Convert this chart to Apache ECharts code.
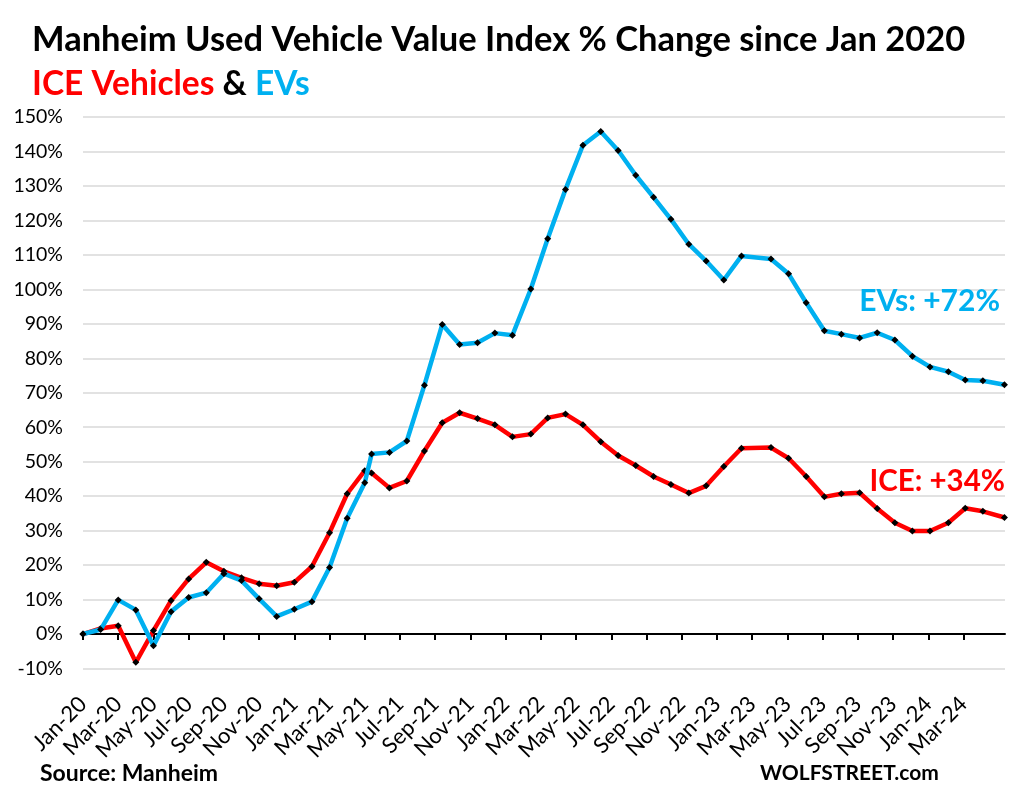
<!DOCTYPE html>
<html><head><meta charset="utf-8">
<script src="https://cdn.jsdelivr.net/npm/echarts@6/dist/echarts.min.js"></script>
<style>html,body{margin:0;padding:0;background:#fff}#c{width:1016px;height:799px}</style>
</head><body><div id="c"></div>
<script>
// ---- data ----
const dates = [
 '2020-01-01','2020-02-01','2020-03-01','2020-04-01','2020-05-01','2020-06-01','2020-07-01','2020-08-01',
 '2020-09-01','2020-10-01','2020-11-01','2020-12-01','2021-01-01','2021-02-01','2021-03-01','2021-04-01',
 '2021-05-01','2021-05-13','2021-06-13','2021-07-13','2021-08-13','2021-09-13','2021-10-13','2021-11-13',
 '2021-12-13','2022-01-13','2022-02-13','2022-03-13','2022-04-13','2022-05-13','2022-06-13','2022-07-13',
 '2022-08-13','2022-09-13','2022-10-13','2022-11-13','2022-12-13','2023-01-13','2023-02-12','2023-04-03',
 '2023-05-03','2023-06-03','2023-07-04','2023-08-03','2023-09-04','2023-10-04','2023-11-04','2023-12-04',
 '2024-01-04','2024-02-05','2024-03-04','2024-04-04','2024-05-11'
];
const iceValues = [
 0, 1.6, 2.4, -8.2, 1.0, 9.7, 16.0, 20.8, 18.2, 16.3, 14.6, 14.0, 15.0, 19.6, 29.4, 40.7,
 47.4, 46.7, 42.4, 44.4, 53.1, 61.3, 64.2, 62.5, 60.7, 57.2, 58.0, 62.7, 63.8, 60.7, 55.8, 51.8,
 48.9, 45.7, 43.4, 40.9, 43.0, 48.6, 53.9, 54.1, 51.0, 45.7, 39.8, 40.7, 41.0, 36.4, 32.3, 29.9,
 29.9, 32.3, 36.5, 35.6, 33.8
];
const evValues = [
 0, 1.3, 9.9, 7.0, -3.4, 6.5, 10.6, 12.0, 17.5, 15.5, 10.2, 5.1, 7.2, 9.4, 19.3, 33.6,
 43.9, 52.2, 52.7, 56.0, 72.2, 89.8, 84.0, 84.5, 87.3, 86.7, 100.1, 114.7, 129.0, 141.8, 145.8, 140.3,
 133.1, 126.7, 120.3, 113.1, 108.2, 102.7, 109.7, 108.8, 104.5, 96.1, 88.0, 87.0, 85.9, 87.4, 85.3, 80.6,
 77.5, 76.1, 73.7, 73.5, 72.3
];
const xTickLabels = ['Jan-20','Mar-20','May-20','Jul-20','Sep-20','Nov-20','Jan-21','Mar-21','May-21','Jul-21',
 'Sep-21','Nov-21','Jan-22','Mar-22','May-22','Jul-22','Sep-22','Nov-22','Jan-23','Mar-23','May-23','Jul-23',
 'Sep-23','Nov-23','Jan-24','Mar-24'];
const axisStart = '2020-01-01';
const axisEnd = '2024-05-12';
const yMin = -10, yMax = 150, yStep = 10;

// ---- helpers: date -> months elapsed since axisStart (fractional) ----
const monthNames = ['Jan','Feb','Mar','Apr','May','Jun','Jul','Aug','Sep','Oct','Nov','Dec'];
const startYear = Number(axisStart.slice(0,4));
function daysIn(y, m){ return new Date(y, m + 1, 0).getDate(); }
function toMonth(s){
  const p = s.split('-').map(Number);
  return (p[0]-startYear)*12 + (p[1]-1) + (p[2]-1)/daysIn(p[0], p[1]-1);
}
function labelToMonth(l){ const p = l.split('-'); return (2000 + Number(p[1]) - startYear)*12 + monthNames.indexOf(p[0]); }
const tickMonths = xTickLabels.map(labelToMonth);
const labelByMonth = {};
xTickLabels.forEach((l,i) => { labelByMonth[tickMonths[i]] = l; });

const FONT = 'Lato';
const RED = '#FF0000', BLUE = '#00B0F0';

const chart = echarts.init(document.getElementById('c'), null, {renderer:'canvas'});
const xBase = { type:'value', min: toMonth(axisStart), max: toMonth(axisEnd), splitLine:{show:false} };

chart.setOption({
  animation:false,
  backgroundColor:'#fff',
  title:[
    { text:'Manheim Used Vehicle Value Index % Change since Jan 2020', left:27, top:17,
      textStyle:{ fontFamily:FONT, fontWeight:'bold', fontSize:34.5, color:'#000' } },
    { text:'{r|ICE Vehicles} {k|&} {b|EVs}', left:27, top:62,
      textStyle:{ fontFamily:FONT, fontWeight:'bold', fontSize:33.5,
        rich:{ r:{color:RED, fontFamily:FONT, fontWeight:'bold', fontSize:33.5},
               k:{color:'#000', fontFamily:FONT, fontWeight:'bold', fontSize:33.5},
               b:{color:BLUE, fontFamily:FONT, fontWeight:'bold', fontSize:33.5} } } }
  ],
  grid:{ left:83, right:11, top:117, bottom:130.5, containLabel:false },
  xAxis:[
    Object.assign({}, xBase, {
      position:'bottom',
      axisLine:{ show:true, onZero:true, lineStyle:{ color:'#000', width:2 } },
      axisTick:{ show:true, length:6, lineStyle:{ color:'#000', width:2 }, customValues: tickMonths },
      axisLabel:{ show:false }
    }),
    Object.assign({}, xBase, {
      position:'bottom', offset:10,
      axisLine:{ show:false, onZero:false },
      axisTick:{ show:false },
      axisLabel:{ show:true, rotate:45, margin:22, fontFamily:FONT, fontSize:22, color:'#000',
        customValues: tickMonths, formatter: v => labelByMonth[Math.round(v)] || '' }
    })
  ],
  yAxis:{
    type:'value', min:yMin, max:yMax, interval:yStep,
    axisLine:{show:false}, axisTick:{show:false},
    axisLabel:{ formatter:'{value}%', fontFamily:FONT, fontSize:19.5, color:'#000', margin:20 },
    splitLine:{ lineStyle:{ color:'#d9d9d9', width:1.5 } }
  },
  series:[
    { name:'ICE', type:'line', xAxisIndex:0, data: dates.map((d,i)=>[toMonth(d), iceValues[i]]),
      symbol:'diamond', symbolSize:7, showSymbol:true, itemStyle:{color:'#000'},
      lineStyle:{ color:RED, width:4.5 }, emphasis:{disabled:true}, z:2 },
    { name:'EVs', type:'line', xAxisIndex:0, data: dates.map((d,i)=>[toMonth(d), evValues[i]]),
      symbol:'diamond', symbolSize:7, showSymbol:true, itemStyle:{color:'#000'},
      lineStyle:{ color:BLUE, width:4.5 }, emphasis:{disabled:true}, z:3 }
  ],
  graphic:[
    { type:'text', right:16, top:286, z:10, style:{ text:'EVs: +72%', fill:BLUE, font:'bold 30px Lato' } },
    { type:'text', right:11, top:466, z:10, style:{ text:'ICE: +34%', fill:RED, font:'bold 29.5px Lato' } },
    { type:'text', left:40, top:762, style:{ text:'Source: Manheim', fill:'#000', font:'bold 23px Lato' } },
    { type:'text', left:760, top:763, style:{ text:'WOLFSTREET.com', fill:'#000', font:'bold 21px Lato' } }
  ]
});
</script></body></html>
